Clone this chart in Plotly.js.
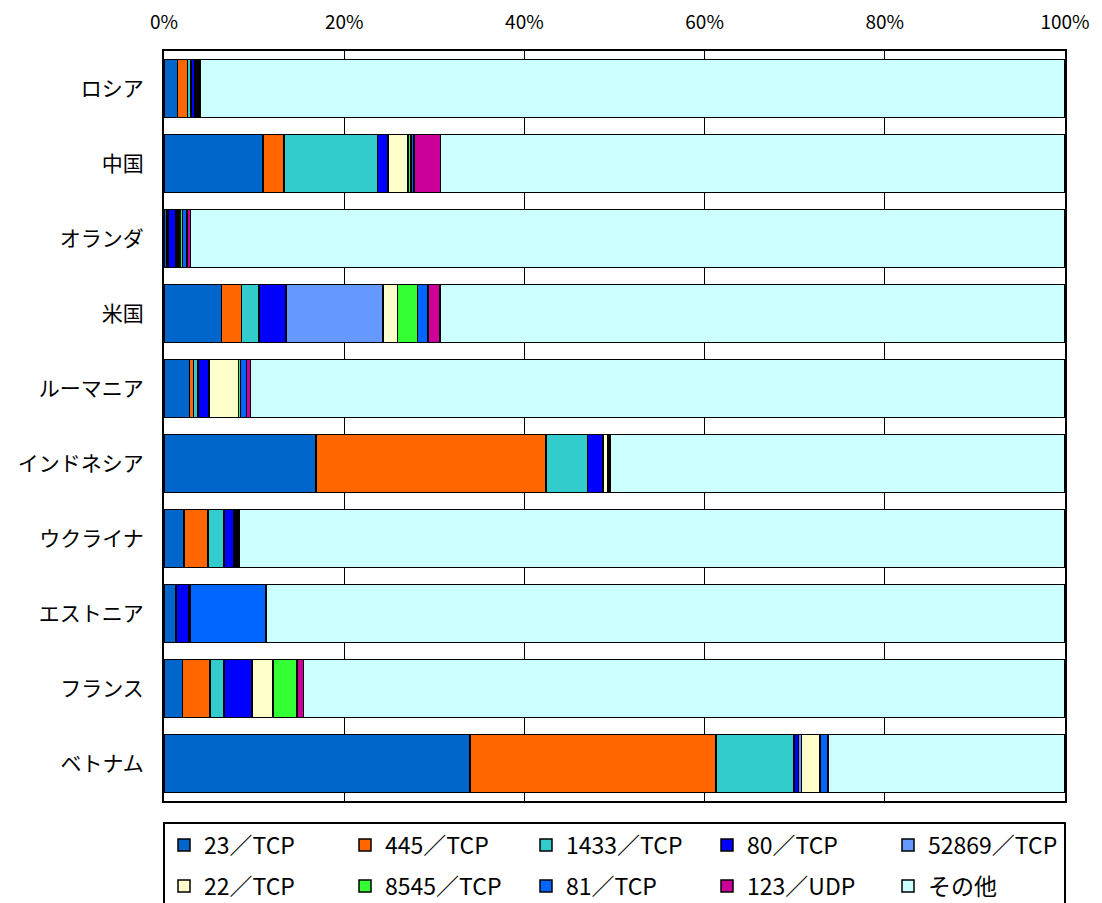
<!DOCTYPE html>
<html>
<head>
<meta charset="utf-8">
<script src="https://cdn.plot.ly/plotly-3.0.1.min.js"></script>
<style>
  html, body { margin: 0; padding: 0; background: #ffffff; }
  #chart { width: 1102px; height: 903px; }
</style>
</head>
<body>
<div id="chart"></div>
<script>
// Countries, top to bottom
const countries = ['ロシア', '中国', 'オランダ', '米国', 'ルーマニア', 'インドネシア', 'ウクライナ', 'エストニア', 'フランス', 'ベトナム'];

// Share of each destination port per country (%)
const port23tcp    = [1.5, 11.0, 0.3, 6.4, 2.85, 16.85, 2.2, 1.33, 2.04, 33.96];
const port445tcp   = [1.1, 2.3, 0.1, 2.2, 0.4, 25.55, 2.7, 0.03, 3.07, 27.3];
const port1433tcp  = [0.4, 10.4, 0.1, 1.96, 0.5, 4.6, 1.75, 0.02, 1.55, 8.64];
const port80tcp    = [0.4, 1.15, 0.85, 2.96, 1.2, 1.65, 1.1, 1.37, 3.07, 0.5];
const port52869tcp = [0.1, 0.05, 0.2, 10.8, 0.05, 0.05, 0.1, 0.05, 0.05, 0.37];
const port22tcp    = [0.1, 2.2, 0.2, 1.6, 3.26, 0.55, 0.1, 0.05, 2.3, 1.96];
const port8545tcp  = [0.15, 0.3, 0.3, 2.2, 0.25, 0.1, 0.15, 0.05, 2.63, 0.05];
const port81tcp    = [0.2, 0.35, 0.5, 1.2, 0.65, 0.1, 0.15, 8.4, 0.05, 0.92];
const port123udp   = [0.12, 2.96, 0.4, 1.3, 0.45, 0.1, 0.1, 0.03, 0.7, 0.05];
const otherPorts   = [95.93, 69.29, 97.05, 69.38, 90.39, 50.45, 91.65, 88.67, 84.54, 26.25];

const seriesNames  = ['23／TCP', '445／TCP', '1433／TCP', '80／TCP', '52869／TCP', '22／TCP', '8545／TCP', '81／TCP', '123／UDP', 'その他'];
const seriesValues = [port23tcp, port445tcp, port1433tcp, port80tcp, port52869tcp, port22tcp, port8545tcp, port81tcp, port123udp, otherPorts];
const seriesColors = ['#0066CC', '#FF6600', '#33CCCC', '#0000FF', '#6699FF', '#FFFFCC', '#33FF33', '#0066FF', '#CC0099', '#CCFFFF'];

const tickValues = [0, 20, 40, 60, 80, 100];
const tickLabels = ['0%', '20%', '40%', '60%', '80%', '100%'];

const FONT = '"Noto Sans CJK JP", "Noto Sans", sans-serif';

// First five ports go in the upper legend row, the rest in the lower row
const traces = seriesNames.map((name, i) => ({
  type: 'bar',
  orientation: 'h',
  name: name,
  x: seriesValues[i],
  y: countries,
  legend: i < 5 ? 'legend' : 'legend2',
  marker: { color: seriesColors[i], line: { color: '#000000', width: 1.5 } },
  hoverinfo: 'name+x'
}));

const legendRow = (yPos) => ({
  orientation: 'h',
  traceorder: 'normal',
  x: 0,
  xanchor: 'left',
  y: yPos,
  yanchor: 'middle',
  entrywidth: 136,
  entrywidthmode: 'pixels',
  font: { size: 23, family: FONT },
  borderwidth: 0,
  bgcolor: 'rgba(0,0,0,0)'
});

const layout = {
  width: 1102,
  height: 903,
  margin: { l: 164, r: 37, t: 51, b: 102, pad: 0, autoexpand: false },
  paper_bgcolor: '#ffffff',
  plot_bgcolor: '#ffffff',
  barmode: 'stack',
  bargap: 0.23,
  font: { family: FONT, color: '#000000' },
  xaxis: {
    side: 'top',
    range: [0, 100],
    tickmode: 'array',
    tickvals: tickValues,
    ticktext: tickLabels,
    tickfont: { size: 19, family: FONT },
    showgrid: true,
    gridcolor: '#000000',
    gridwidth: 1,
    zeroline: false,
    showline: true,
    linecolor: '#000000',
    linewidth: 2,
    mirror: true,
    ticks: '',
    ticklabelstandoff: 12,
    fixedrange: true
  },
  yaxis: {
    autorange: 'reversed',
    tickfont: { size: 21, family: FONT },
    showline: true,
    linecolor: '#000000',
    linewidth: 2,
    mirror: true,
    ticks: '',
    ticklabelstandoff: 14,
    showgrid: false,
    fixedrange: true
  },
  showlegend: true,
  legend: legendRow(-0.0587),
  legend2: legendRow(-0.1133),
  // Frame around both legend rows
  shapes: [{
    type: 'rect',
    xref: 'paper', yref: 'paper',
    x0: 0, x1: 1, y0: -0.0293, y1: -0.2,
    line: { color: '#000000', width: 2 },
    fillcolor: 'rgba(0,0,0,0)',
    layer: 'below'
  }]
};

Plotly.newPlot('chart', traces, layout, { displayModeBar: false, staticPlot: true });
</script>
</body>
</html>
